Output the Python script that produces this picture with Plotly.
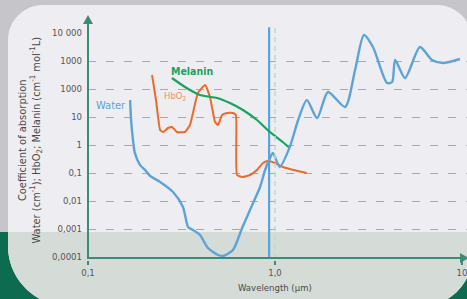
import plotly.graph_objects as go

# ---------------- data ----------------
water_x = [0.168, 0.170, 0.174, 0.178, 0.190, 0.202, 0.215, 0.243, 0.285, 0.322, 0.343,
           0.364, 0.397, 0.438, 0.496, 0.527, 0.596, 0.667, 0.735, 0.832, 0.885, 0.940,
           0.975, 1.06, 1.20, 1.33, 1.48, 1.68, 1.92, 2.37, 2.68, 2.99, 3.34, 3.97, 4.23,
           4.39, 4.96, 5.96, 6.91, 7.91, 9.75]
water_y = [40, 7.8, 1.5, 0.52, 0.19, 0.128, 0.078, 0.048, 0.021, 0.0061, 0.00118,
           0.00092, 0.00061, 0.00021, 0.000118, 0.000109, 0.000178, 0.00109, 0.0048, 0.0316, 0.128, 0.34,
           0.52, 0.164, 0.85, 7.8, 40, 9.2, 78, 22.8, 477, 8480, 3160, 164, 178,
           1086, 247, 3160, 1086, 849, 1180]

hbo2_x = [0.220, 0.231, 0.243, 0.252, 0.268, 0.281, 0.299, 0.330, 0.351, 0.387, 0.423,
          0.449, 0.478, 0.496, 0.521, 0.554, 0.596, 0.618, 0.626, 0.667, 0.735, 0.801,
          0.863, 0.918, 1.00, 1.10, 1.20, 1.48]
hbo2_y = [316, 40.5, 3.43, 2.91, 4.05, 4.39, 2.91, 2.91, 5.18, 72, 139,
          51.8, 6.63, 5.18, 11.8, 13.9, 13.9, 11.8, 0.085, 0.072, 0.085, 0.128,
          0.228, 0.268, 0.228, 0.164, 0.139, 0.10]

melanin_x = [0.281, 0.330, 0.397, 0.490, 0.574, 0.674, 0.801, 0.940, 1.10, 1.20]
melanin_y = [247, 118, 61, 47.7, 31.6, 17.8, 7.8, 2.91, 1.28, 0.78]

laser_x = [0.93, 0.93]
ref_x = [1.0, 1.0]
vline_y = [0.000092, 16000]

y_ticks = [1e-4, 1e-3, 1e-2, 1e-1, 1, 10, 100, 1000, 10000]
y_ticktext = ["0,0001", "0,001", "0,01", "0,1", "1", "10", "1000", "1000", "10 000"]
grid_vals = [1e-3, 1e-2, 1e-1, 1, 10, 100, 1000]
x_ticks = [0.1, 1, 10]
x_ticktext = ["0,1", "1,0", "10"]

# ---------------- layout helpers (pixel -> paper) ----------------
W, H = 467, 299
L, R, T, B = 88, 0, 20, 39
PW, PH = W - L - R, H - T - B


def px(x):
    return (x - L) / PW


def py(y):
    return (H - B - y) / PH


def pt(x, y):
    return f"{px(x):.5f},{py(y):.5f}"


k = 0.55


def rounded_panel(x0, y0, x1, y1, rtl, rtr, rbr, rbl):
    s = f"M{pt(x0 + rtl, y0)} L{pt(x1 - rtr, y0)} "
    s += f"C{pt(x1 - rtr + k * rtr, y0)} {pt(x1, y0 + rtr - k * rtr)} {pt(x1, y0 + rtr)} "
    s += f"L{pt(x1, y1 - rbr)} "
    s += f"C{pt(x1, y1 - rbr + k * rbr)} {pt(x1 - rbr + k * rbr, y1)} {pt(x1 - rbr, y1)} "
    s += f"L{pt(x0 + rbl, y1)} "
    s += f"C{pt(x0 + rbl - k * rbl, y1)} {pt(x0, y1 - rbl + k * rbl)} {pt(x0, y1 - rbl)} "
    s += f"L{pt(x0, y0 + rtl)} "
    s += f"C{pt(x0, y0 + rtl - k * rtl)} {pt(x0 + rtl - k * rtl, y0)} {pt(x0 + rtl, y0)} Z"
    return s


def lower_panel(x0, ycut, x1, y1, rbr, rbl):
    s = f"M{pt(x0, ycut)} L{pt(x0, y1 - rbl)} "
    s += f"C{pt(x0, y1 - rbl + k * rbl)} {pt(x0 + rbl - k * rbl, y1)} {pt(x0 + rbl, y1)} "
    s += f"L{pt(x1 - rbr, y1)} "
    s += f"C{pt(x1 - rbr + k * rbr, y1)} {pt(x1, y1 - rbr + k * rbr)} {pt(x1, y1 - rbr)} "
    s += f"L{pt(x1, ycut)} Z"
    return s


AX = "#3b8b77"
FONT = "DejaVu Sans Condensed, DejaVu Sans, sans-serif"

shapes = [
    dict(type="rect", xref="paper", yref="paper", x0=px(-10), x1=px(W + 10), y0=py(232), y1=py(H + 10),
         fillcolor="#0d6b50", line=dict(width=0), layer="below"),
    dict(type="path", xref="paper", yref="paper", path=rounded_panel(8, 5, 472, 306, 35, 35, 50, 60),
         fillcolor="#eeedf1", line=dict(width=0), layer="below"),
    dict(type="path", xref="paper", yref="paper", path=lower_panel(8, 232, 472, 306, 50, 60),
         fillcolor="#d5dcd8", line=dict(width=0), layer="below"),
    dict(type="line", xref="paper", yref="paper", x0=px(88), x1=px(88), y0=py(258), y1=py(22),
         line=dict(color=AX, width=2), layer="above"),
    dict(type="path", xref="paper", yref="paper",
         path=f"M{pt(83, 24)} L{pt(93, 24)} L{pt(88, 15)} Z", fillcolor=AX, line=dict(width=0), layer="above"),
    dict(type="line", xref="paper", yref="paper", x0=px(87), x1=px(462), y0=py(258), y1=py(258),
         line=dict(color=AX, width=2), layer="above"),
    dict(type="path", xref="paper", yref="paper",
         path=f"M{pt(460, 253)} L{pt(460, 263)} L{pt(469, 258)} Z", fillcolor=AX, line=dict(width=0), layer="above"),
]

fig = go.Figure()

fig.add_trace(go.Scatter(x=ref_x, y=vline_y, mode="lines", yaxis="y2",
                         line=dict(color="#b3dfc4", width=1.5, dash="5px,4px"), hoverinfo="skip"))
fig.add_trace(go.Scatter(x=laser_x, y=vline_y, mode="lines",
                         line=dict(color="#5ba3d9", width=2.2), hoverinfo="skip"))
fig.add_trace(go.Scatter(x=hbo2_x, y=hbo2_y, mode="lines", name="HbO2",
                         line=dict(color="#ee6a2c", width=2, shape="spline", smoothing=0.4)))
fig.add_trace(go.Scatter(x=melanin_x, y=melanin_y, mode="lines", name="Melanin",
                         line=dict(color="#17a35c", width=2.2, shape="spline", smoothing=0.6)))
fig.add_trace(go.Scatter(x=water_x, y=water_y, mode="lines", name="Water",
                         line=dict(color="#5ba3d9", width=2.4, shape="spline", smoothing=0.7)))

yr = [-4 - 3 / 28, (257 - T) / 28 - 4]
xr = [-1, -1 + PW / 187]

annotations = [
    dict(xref="paper", yref="paper", x=px(29.5), y=py(140), xanchor="center", yanchor="middle",
         textangle=-90, showarrow=False,
         text="Coefficient of absorption<br>Water (cm<sup>-1</sup>); HbO<sub>2</sub>; Melanin (cm<sup>-1</sup> mol<sup>-1</sup>L)",
         font=dict(family=FONT, size=11, color="#4a4a4a"), align="center"),
    dict(xref="paper", yref="paper", x=px(275), y=py(287), xanchor="center", yanchor="middle",
         showarrow=False, text="Wavelength (µm)",
         font=dict(family=FONT, size=9.5, color="#4a4a4a")),
    dict(xref="paper", yref="paper", x=px(94), y=py(106), xanchor="left", yanchor="middle",
         showarrow=False, text="Water", font=dict(family=FONT, size=11, color="#5ba3d9")),
    dict(xref="paper", yref="paper", x=px(169), y=py(71), xanchor="left", yanchor="middle",
         showarrow=False, text="<b>Melanin</b>", font=dict(family=FONT, size=10.5, color="#17a35c")),
    dict(xref="paper", yref="paper", x=px(162), y=py(96), xanchor="left", yanchor="middle",
         showarrow=False, text="HbO<sub>2</sub>", font=dict(family=FONT, size=9.5, color="#f29060")),
]

fig.update_layout(
    width=W, height=H,
    margin=dict(l=L, r=R, t=T, b=B, pad=0, autoexpand=False),
    paper_bgcolor="#c6c5c9",
    plot_bgcolor="rgba(0,0,0,0)",
    showlegend=False,
    shapes=shapes,
    annotations=annotations,
    xaxis=dict(type="log", range=xr, tickvals=x_ticks, ticktext=x_ticktext, showgrid=False, automargin=False,
               zeroline=False, showline=False, ticks="outside", ticklen=4, tickcolor=AX, tickwidth=1.5,
               ticklabeloverflow="allow",
               tickfont=dict(family=FONT, size=9.5, color="#555555")),
    yaxis=dict(type="log", range=yr, tickvals=y_ticks, ticktext=y_ticktext, showgrid=False, automargin=False,
               zeroline=False, showline=False, ticks="", ticklabelstandoff=5,
               tickfont=dict(family=FONT, size=9.5, color="#555555")),
    yaxis2=dict(type="log", range=yr, overlaying="y", tickvals=grid_vals, showticklabels=False, automargin=False,
                showgrid=True, gridcolor="#aca8a8", gridwidth=1.3, griddash="8px,10px",
                zeroline=False, showline=False, ticks=""),
)

fig.write_html("out.html", config={"displayModeBar": False},
               post_script="document.body.style.margin='0';document.body.style.padding='0';")
